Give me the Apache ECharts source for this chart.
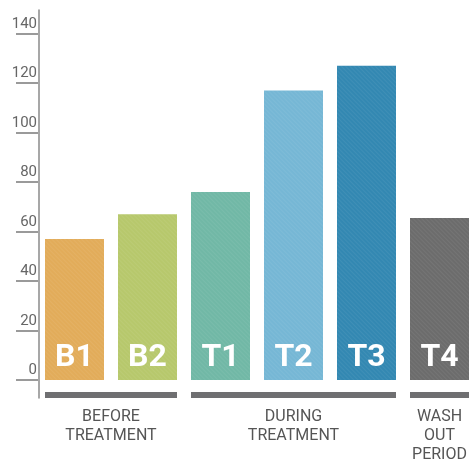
<!DOCTYPE html>
<html>
<head>
<meta charset="utf-8">
<script src="https://cdn.jsdelivr.net/npm/echarts@6/dist/echarts.min.js"></script>
<style>
  html, body { margin: 0; padding: 0; background: #fff; }
  #chart { width: 472px; height: 472px; }
</style>
</head>
<body>
<div id="chart"></div>
<script>
// Measurement per phase
const categories = ['B1', 'B2', 'T1', 'T2', 'T3', 'T4'];
const values = [57, 67, 76, 117, 127, 65.5];
const barColors = ['#E2AC5A', '#B7C86C', '#71B8A6', '#76B7D5', '#3388B2', '#6C6C6C'];

// Y axis ticks
const yMin = 0;
const yMax = 140;
const yStep = 20;

// Phase groups below the bars (first and last category index of each)
const groupLabels = ['BEFORE\nTREATMENT', 'DURING\nTREATMENT', 'WASH\nOUT\nPERIOD'];
const groupFirst = [0, 2, 5];
const groupLast = [1, 4, 5];

const BAR_W = 59;
const FONT = 'Roboto, "Liberation Sans", Arial, sans-serif';

const chart = echarts.init(document.getElementById('chart'), null, { renderer: 'canvas' });

// faint diagonal texture on the bars
const hatch = {
  symbol: 'rect',
  symbolSize: 1,
  color: 'rgba(255,255,255,0.06)',
  dashArrayX: [1, 0],
  dashArrayY: [1, 2],
  rotation: Math.PI / 4
};

chart.setOption({
  animation: false,
  backgroundColor: '#ffffff',
  grid: [
    { left: 38, width: 438, top: 33.5, bottom: 92, outerBoundsMode: 'none', containLabel: false },
    { left: 39, width: 437, top: 10, bottom: 74, outerBoundsMode: 'none', containLabel: false }
  ],
  xAxis: [
    {
      type: 'category',
      gridIndex: 0,
      data: categories,
      axisLine: { show: false },
      axisTick: { show: false },
      axisLabel: { show: false }
    },
    { type: 'value', gridIndex: 1, show: false }
  ],
  yAxis: [
    {
      type: 'value',
      gridIndex: 0,
      min: yMin,
      max: yMax,
      interval: yStep,
      axisLine: { show: false },
      splitLine: { show: false },
      axisTick: {
        show: true,
        length: 22,
        lineStyle: { color: '#7a7a7a', width: 1.5 }
      },
      axisLabel: {
        color: '#666666',
        fontFamily: FONT,
        fontSize: 15,
        margin: 1,
        verticalAlign: 'bottom',
        padding: [0, 0, 2, 0]
      }
    },
    {
      type: 'value',
      gridIndex: 1,
      axisLine: { show: true, lineStyle: { color: '#8a8a8a', width: 1.5 } },
      axisTick: { show: false },
      axisLabel: { show: false },
      splitLine: { show: false }
    }
  ],
  series: [
    {
      type: 'bar',
      xAxisIndex: 0,
      yAxisIndex: 0,
      barWidth: BAR_W,
      data: values.map((v, i) => ({
        value: v,
        itemStyle: { color: barColors[i], decal: hatch }
      })),
      label: {
        show: true,
        position: 'insideBottom',
        distance: 6,
        formatter: (p) => p.name,
        color: '#ffffff',
        fontFamily: FONT,
        fontWeight: 'bold',
        fontSize: 32
      }
    },
    {
      type: 'custom',
      xAxisIndex: 0,
      yAxisIndex: 0,
      clip: false,
      silent: true,
      data: groupLabels.map((t, i) => [groupFirst[i], groupLast[i], t]),
      renderItem: function (params, api) {
        const a = api.coord([api.value(0), 0]);
        const b = api.coord([api.value(1), 0]);
        const x0 = a[0] - BAR_W / 2;
        const x1 = b[0] + BAR_W / 2;
        const y0 = a[1];
        return {
          type: 'group',
          children: [
            {
              type: 'rect',
              shape: { x: x0, y: y0 + 12, width: x1 - x0, height: 6 },
              style: { fill: '#6F6F71' }
            },
            {
              type: 'text',
              style: {
                text: groupLabels[params.dataIndex],
                x: (x0 + x1) / 2,
                y: y0 + 27,
                align: 'center',
                verticalAlign: 'top',
                fontFamily: FONT,
                fontSize: 16,
                lineHeight: 19,
                fill: '#555555'
              }
            }
          ]
        };
      }
    }
  ]
});
</script>
</body>
</html>
